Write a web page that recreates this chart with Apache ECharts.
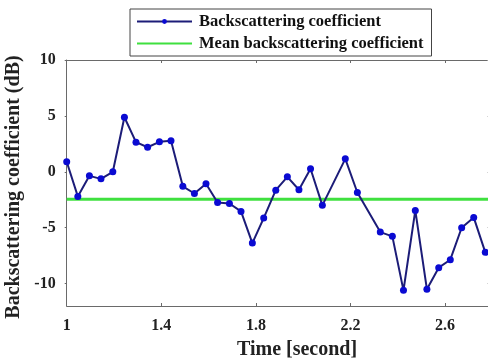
<!DOCTYPE html>
<html>
<head>
<meta charset="utf-8">
<script src="https://cdn.jsdelivr.net/npm/echarts@6/dist/echarts.min.js"></script>
<style>
  html, body { margin: 0; padding: 0; background: #fff; }
  #chart { width: 488px; height: 363px; }
</style>
</head>
<body>
<div id="chart"></div>
<script>
const times = [1.000, 1.047, 1.096, 1.145, 1.195, 1.244, 1.293, 1.342, 1.392, 1.441,
  1.491, 1.540, 1.589, 1.638, 1.688, 1.737, 1.785, 1.833, 1.884, 1.933,
  1.982, 2.031, 2.081, 2.178, 2.229, 2.326, 2.377, 2.424, 2.474, 2.523,
  2.573, 2.622, 2.670, 2.721, 2.770]
const backscatter = [0.9, -2.2, -0.36, -0.63, 0.0, 4.88, 2.65, 2.2, 2.68, 2.77,
  -1.3, -1.94, -1.07, -2.74, -2.83, -3.54, -6.37, -4.14, -1.64, -0.45,
  -1.6, 0.27, -3.0, 1.16, -1.85, -5.39, -5.77, -10.6, -3.45, -10.5,
  -8.57, -7.86, -5.0, -4.08, -7.2]
const meanValue = -2.45
const xTicks = [1, 1.4, 1.8, 2.2, 2.6]
const yTicks = [-10, -5, 0, 5, 10]
const xRange = [1, 2.8]
const yRange = [-12, 10]

const FONT = 'Liberation Serif'
const axisColor = '#6a6a6a'

const chart = echarts.init(document.getElementById('chart'), null, { renderer: 'canvas' })

const lineData = times.map((t, i) => [t, backscatter[i]])
const meanData = [[xRange[0], meanValue], [xRange[1], meanValue]]

function frameAxis(extra) {
  return Object.assign({
    type: 'value',
    axisLine: { show: true, onZero: false, lineStyle: { color: axisColor, width: 1 } },
    splitLine: { show: false },
    axisLabel: { show: false },
    axisTick: { show: true, inside: true, length: 3, lineStyle: { color: axisColor } }
  }, extra)
}

chart.setOption({
  backgroundColor: '#fff',
  animation: false,
  grid: { left: 66.7, top: 60, right: -4.4, bottom: 57, containLabel: false, outerBoundsMode: 'none' },
  legend: {
    orient: 'vertical',
    left: 130,
    top: 9,
    padding: [3, 8, 3, 6],
    itemGap: 3,
    itemWidth: 55,
    itemHeight: 6,
    borderColor: '#444',
    borderWidth: 1,
    backgroundColor: '#fff',
    textStyle: { fontFamily: FONT, fontWeight: 'bold', fontSize: 16.5, color: '#111', padding: [0, 0, 0, 2], lineHeight: 19 },
    data: [
      { name: 'Backscattering coefficient' },
      { name: 'Mean backscattering coefficient', itemStyle: { opacity: 0 } }
    ]
  },
  xAxis: [
    frameAxis({
      min: xRange[0], max: xRange[1],
      axisTick: { show: true, inside: true, length: 3, customValues: xTicks, lineStyle: { color: axisColor } },
      axisLabel: {
        show: true, customValues: xTicks, margin: 12,
        fontFamily: FONT, fontWeight: 'bold', fontSize: 16, color: '#222'
      },
      name: 'Time [second]',
      nameLocation: 'middle',
      nameGap: 34,
      nameTextStyle: { fontFamily: FONT, fontWeight: 'bold', fontSize: 20, color: '#222', padding: [0, 0, 0, 35] }
    }),
    frameAxis({
      position: 'top', min: xRange[0], max: xRange[1],
      axisTick: { show: true, inside: true, length: 3, customValues: xTicks, lineStyle: { color: axisColor } }
    })
  ],
  yAxis: [
    frameAxis({
      min: yRange[0], max: yRange[1],
      axisTick: { show: true, inside: false, length: 2, customValues: yTicks, lineStyle: { color: axisColor } },
      axisLabel: {
        show: true, customValues: yTicks, margin: 11,
        fontFamily: FONT, fontWeight: 'bold', fontSize: 16, color: '#222'
      },
      name: 'Backscattering coefficient (dB)',
      nameLocation: 'middle',
      nameGap: 33,
      nameRotate: 90,
      nameTextStyle: { fontFamily: FONT, fontWeight: 'bold', fontSize: 20, color: '#222', padding: [0, 0, 0, -8] }
    }),
    frameAxis({
      position: 'right', min: yRange[0], max: yRange[1],
      axisTick: { show: true, inside: true, length: 5, customValues: yTicks, lineStyle: { color: '#bbb' } }
    })
  ],
  series: [
    {
      name: 'Backscattering coefficient',
      type: 'line',
      data: lineData,
      symbol: 'circle',
      symbolSize: 7,
      showSymbol: true,
      lineStyle: { color: '#1c1c78', width: 2 },
      itemStyle: { color: '#0a0ad2', borderWidth: 0 },
      z: 3
    },
    {
      name: 'Mean backscattering coefficient',
      type: 'line',
      data: meanData,
      symbol: 'none',
      showSymbol: false,
      lineStyle: { color: '#3fe03f', width: 3 },
      itemStyle: { color: '#3fe03f' },
      z: 2
    }
  ]
})

window.addEventListener('resize', () => chart.resize())
</script>
</body>
</html>
